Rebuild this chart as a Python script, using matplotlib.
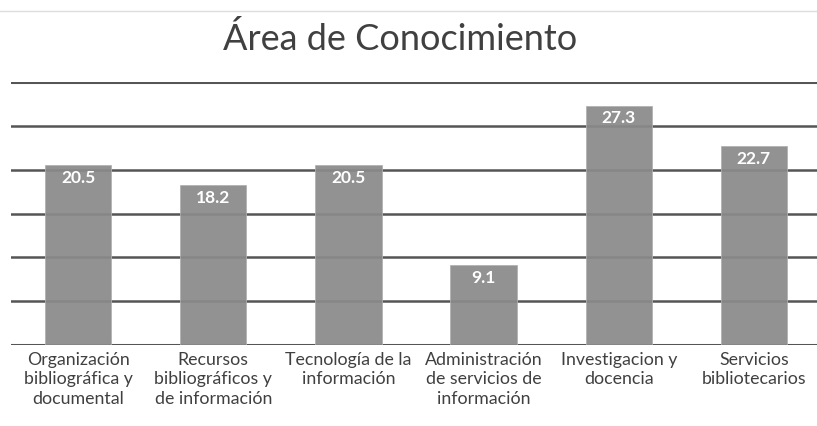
import matplotlib.pyplot as plt

# data
categories = ['Organización\nbibliográfica y\ndocumental',
              'Recursos\nbibliográficos y\nde información',
              'Tecnología de la\ninformación',
              'Administración\nde servicios de\ninformación',
              'Investigacion y\ndocencia',
              'Servicios\nbibliotecarios']
values = [20.5, 18.2, 20.5, 9.1, 27.3, 22.7]
y_ticks = [0, 5, 10, 15, 20, 25, 30]

plt.rcParams['font.family'] = ['Lato', 'DejaVu Sans']

W, H = 817, 426
fig = plt.figure(figsize=(W / 100, H / 100), dpi=100)
ax = fig.add_axes([10.5 / W, (H - 345) / H, (W - 10.5) / W, (345 - 82) / H])

x = range(len(values))
ax.bar(x, values, width=0.49, color='#8a8a8a', alpha=0.93, zorder=3,
       edgecolor='#b0b0b0', linewidth=0.6)

for yt in y_ticks:
    ax.axhline(yt, color='#555555', lw=2.2 if yt in (0, 30) else 1.8, zorder=2)

for xi, v in zip(x, values):
    ax.text(xi, v - 0.55, f'{v:.1f}', ha='center', va='top', color='white',
            fontsize=12.5, fontweight='bold', zorder=4)

ax.set_xlim(-0.5, 5.5 - 4.5 / 135)
ax.set_ylim(0, 30)
ax.set_yticks([])
ax.set_xticks(list(x))
ax.set_xticklabels(categories, fontsize=12.8, color='#404040', linespacing=1.27)
ax.tick_params(axis='x', length=0, pad=5)
for s in ax.spines.values():
    s.set_visible(False)

# faint frame line at the top of the picture
fig.add_artist(plt.Line2D([0, 1], [(H - 11) / H] * 2, color='#dddddd', lw=1))
fig.text(400 / W, (H - 39) / H, 'Área de Conocimiento', ha='center', va='center',
         fontsize=26, color='#404040')

fig.savefig('out.png', dpi=100)
